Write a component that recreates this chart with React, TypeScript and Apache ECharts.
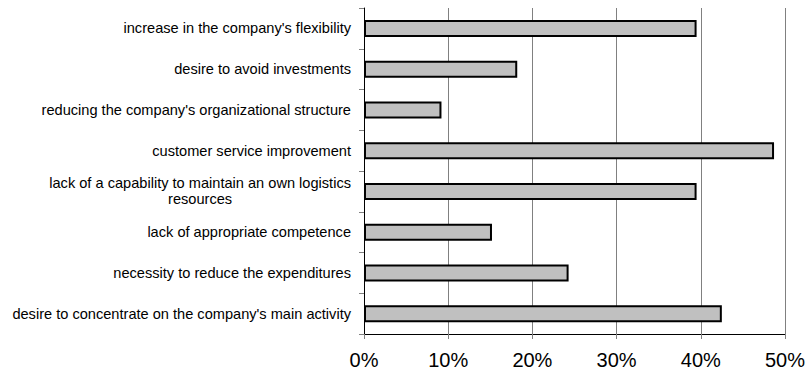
import React, { useEffect, useRef } from "react";
import * as echarts from "echarts";

const categories: string[] = [
  "increase in the company's flexibility",
  "desire to avoid investments",
  "reducing the company's organizational structure",
  "customer service improvement",
  "lack of a capability to maintain an own logistics\nresources",
  "lack of appropriate competence",
  "necessity to reduce the expenditures",
  "desire to concentrate on the company's main activity",
];

const values: number[] = [39.5, 18.2, 9.2, 48.7, 39.5, 15.2, 24.3, 42.5];

const xTickLabels: string[] = ["0%", "10%", "20%", "30%", "40%", "50%"];

const FONT = "'Liberation Sans', Arial, sans-serif";
const LABEL_SIZE = 14.6;

export default function App() {
  const ref = useRef<HTMLDivElement>(null);

  useEffect(() => {
    if (!ref.current) return;
    const chart = echarts.init(ref.current, undefined, { renderer: "svg" });
    chart.setOption({
      animation: false,
      backgroundColor: "#ffffff",
      grid: { left: 364, right: 22, top: 8, bottom: 40, containLabel: false },
      xAxis: {
        type: "value",
        min: 0,
        max: 50,
        interval: 10,
        axisLine: { show: true, lineStyle: { color: "#000", width: 1 } },
        axisTick: { show: true, length: 5, lineStyle: { color: "#808080" } },
        splitLine: { show: true, lineStyle: { color: "#808080", width: 1 } },
        axisLabel: {
          formatter: (v: number) => xTickLabels[Math.round(v / 10)] ?? v + "%",
          fontSize: 20,
          fontFamily: FONT,
          color: "#000",
          margin: 16,
        },
      },
      yAxis: {
        type: "category",
        inverse: true,
        data: categories,
        axisLine: { show: true, lineStyle: { color: "#000", width: 1 } },
        axisTick: { show: true, length: 5, lineStyle: { color: "#808080" } },
        splitLine: { show: false },
        axisLabel: {
          fontSize: LABEL_SIZE,
          fontFamily: FONT,
          color: "#000",
          margin: 13,
          lineHeight: 16,
          formatter: (v: string) => {
            if (v.indexOf("\n") >= 0) {
              const parts = v.split("\n");
              return "{a|" + parts[0] + "}\n{c|" + parts[1] + "}";
            }
            return v;
          },
          rich: {
            a: { fontSize: LABEL_SIZE, fontFamily: FONT, color: "#000", lineHeight: 16, align: "right" },
            c: { fontSize: LABEL_SIZE, fontFamily: FONT, color: "#000", lineHeight: 16, align: "center" },
          },
        },
      },
      series: [
        {
          type: "bar",
          data: values,
          barWidth: 17,
          itemStyle: {
            color: "#c0c0c0",
            borderColor: "#000",
            borderWidth: 2,
          },
        },
      ],
    });
    return () => chart.dispose();
  }, []);

  return (
    <div
      ref={ref}
      style={{ position: "fixed", left: 0, top: 0, width: 808, height: 374, background: "#fff" }}
    />
  );
}
